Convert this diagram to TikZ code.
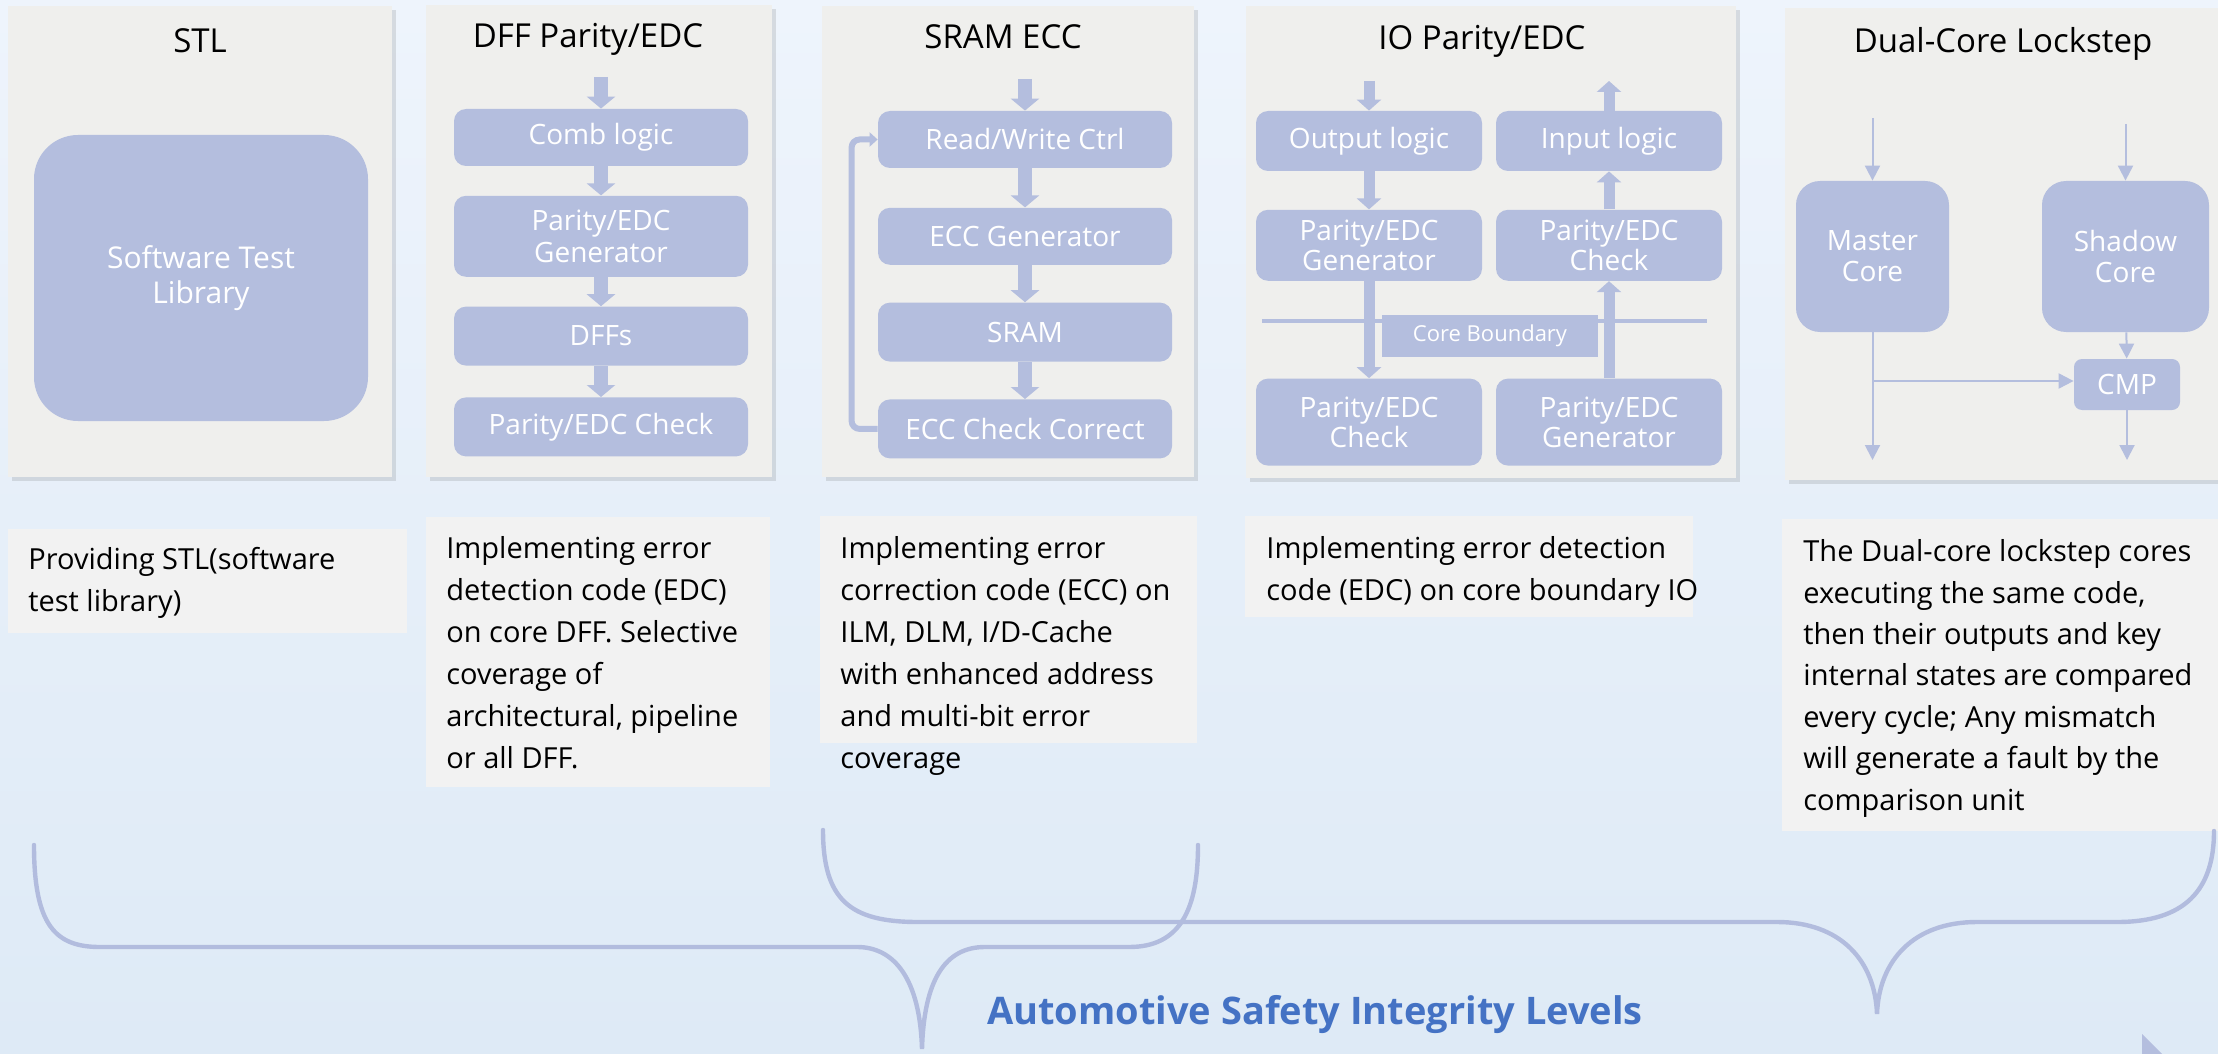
\documentclass[tikz,border=0pt]{standalone}
\usepackage{fontspec}
\setmainfont{Open Sans}
\usepackage{xcolor}
\usetikzlibrary{arrows.meta, positioning, shadows}
\definecolor{bgtop}{RGB}{238,244,252}
\definecolor{bgbot}{RGB}{222,234,246}
\definecolor{panelgray}{RGB}{239,239,237}
\definecolor{boxblue}{RGB}{180,190,222}
\definecolor{descgray}{RGB}{242,242,242}
\definecolor{bracecol}{RGB}{178,188,222}
\definecolor{asilblue}{RGB}{68,114,196}
\tikzset{
	panel/.style={fill=panelgray, inner sep=0pt, drop shadow={shadow xshift=2pt, shadow yshift=-2pt, opacity=.18, fill=black!60}},
	paneltitle/.style={anchor=base, inner sep=0pt, font=\fontsize{16.5pt}{20pt}\selectfont},
	blk/.style={fill=boxblue, rounded corners=6pt, text=white, align=center, inner sep=0pt, font=\fontsize{14pt}{16pt}\selectfont},
	dffbox/.style={blk, minimum width=147pt},
	iobox/.style={blk, minimum width=113pt, font=\fontsize{14pt}{15pt}\selectfont},
	corebox/.style={blk, rounded corners=12pt, minimum height=75.5pt, font=\fontsize{14pt}{15.5pt}\selectfont},
	desc/.style={fill=descgray, inner sep=0pt},
	desctext/.style={anchor=base west, align=left, inner sep=0pt, font=\fontsize{14.5pt}{21pt}\selectfont},
	fatarrow/.style={draw=boxblue, line width=7pt, -{Triangle[width=14pt,length=6pt]}},
	ioarrow/.style={draw=boxblue, line width=5.5pt, -{Triangle[width=12pt,length=5.5pt]}},
	looparrow/.style={draw=boxblue, line width=3pt, rounded corners=4pt, -{Triangle[width=7pt,length=4pt]}},
	thinarrow/.style={draw=boxblue, line width=1pt, -{Triangle[width=7.5pt,length=7.5pt]}},
	bracket/.style={draw=bracecol, line width=2.2pt, line cap=round},
}
\begin{document}
\begin{tikzpicture}[x=0.5pt, y=-0.5pt]
	\useasboundingbox (0,0) rectangle (2218,1054);
	\clip (0,0) rectangle (2218,1054);
	\shade[top color=bgtop, bottom color=bgbot] (0,0) rectangle (2218,1054);

	\node[panel, minimum width=192pt, minimum height=235.5pt] (stlp) at (200,241.5) {};
	\node[panel, minimum width=173pt, minimum height=236pt] (dffp) at (599,241) {};
	\node[panel, minimum width=186pt, minimum height=235.5pt] (sramp) at (1008,241.5) {};
	\node[panel, minimum width=245pt, minimum height=236pt] (iop) at (1491,242) {};
	\node[panel, minimum width=230pt, minimum height=236pt] (dclp) at (2015,244) {};

	\node[paneltitle] (stlt) at (200,53) {STL};
	\node[paneltitle] (dfft) at (588,48) {DFF Parity/EDC};
	\node[paneltitle] (sramt) at (1003,49) {SRAM ECC};
	\node[paneltitle] (iot) at (1482,50) {IO Parity/EDC};
	\node[paneltitle] (dclt) at (2003,53) {Dual-Core Lockstep};

	\node[blk, rounded corners=22pt, minimum width=167pt, minimum height=143pt, font=\fontsize{15pt}{17.5pt}\selectfont] (stllib) at (201,278) {Software Test\\Library};

	\coordinate (dffin) at (601,77);
	\node[dffbox, minimum height=28.5pt] (comb) at (601,137.5) {Comb logic};
	\node[dffbox, minimum height=40.5pt, below=14.5pt of comb] (dffgen) {Parity/EDC\\Generator};
	\node[dffbox, minimum height=29.5pt, below=14.5pt of dffgen] (dffs) {DFFs};
	\node[dffbox, minimum height=29.5pt, below=15.5pt of dffs] (dffchk) {Parity/EDC Check};
	\draw[fatarrow] (dffin) -- (comb);
	\draw[fatarrow] (comb) -- (dffgen);
	\draw[fatarrow] (dffgen) -- (dffs);
	\draw[fatarrow] (dffs) -- (dffchk);

	\coordinate (sramin) at (1025,79);
	\node[dffbox, minimum height=28.5pt] (rwctrl) at (1025,139.5) {Read/Write Ctrl};
	\node[dffbox, minimum height=28.5pt, below=19.5pt of rwctrl] (eccgen) {ECC Generator};
	\node[dffbox, minimum height=29.5pt, below=18.5pt of eccgen] (sram) {SRAM};
	\node[dffbox, minimum height=29.5pt, below=18.5pt of sram] (eccchk) {ECC Check Correct};
	\draw[fatarrow] (sramin) -- (rwctrl);
	\draw[fatarrow] (rwctrl) -- (eccgen);
	\draw[fatarrow] (eccgen) -- (sram);
	\draw[fatarrow] (sram) -- (eccchk);
	\draw[looparrow] (eccchk.west) -- ++(-13pt,0) |- (rwctrl.west);

	\coordinate (cbl) at (1262,321);
	\coordinate (cbr) at (1707,321);
	\draw[draw=boxblue, line width=2.3pt] (cbl) -- (cbr);
	\node[fill=boxblue, text=white, inner sep=0pt, minimum width=108pt, minimum height=21pt, font=\fontsize{11pt}{13pt}\selectfont] (cblabel) at (1490,336) {Core Boundary};
	\coordinate (ioin) at (1369,81);
	\coordinate (ioout) at (1609,81);
	\node[iobox, minimum height=30pt] (outl) at (1369,141) {Output logic};
	\node[iobox, minimum height=30pt] (inl) at (1609,141) {Input logic};
	\node[iobox, minimum height=35.5pt, below=19pt of outl] (iogen) {Parity/EDC\\Generator};
	\node[iobox, minimum height=35.5pt, below=19pt of inl] (iochkr) {Parity/EDC\\Check};
	\node[iobox, minimum height=43.5pt, below=48.5pt of iogen] (iochk) {Parity/EDC\\Check};
	\node[iobox, minimum height=43.5pt, below=48.5pt of iochkr] (iogenr) {Parity/EDC\\Generator};
	\draw[ioarrow] (ioin) -- (outl);
	\draw[ioarrow] (outl) -- (iogen);
	\draw[ioarrow] (iogen) -- (iochk);
	\draw[ioarrow] (iogenr) -- (iochkr);
	\draw[ioarrow] (iochkr) -- (inl);
	\draw[ioarrow] (inl) -- (ioout);

	\node[corebox, minimum width=76.5pt] (master) at (1872.5,256.5) {Master\\Core};
	\node[corebox, minimum width=83.5pt] (shadow) at (2125.5,256.5) {Shadow\\Core};
	\node[blk, rounded corners=4pt, minimum width=53pt, minimum height=25.5pt] (cmp) at (2127,384.5) {CMP};
	\coordinate (mastin) at (1872.5,118);
	\coordinate (shadin) at (2125.5,124);
	\coordinate (mastout) at (1872.5,460);
	\coordinate (cmpout) at (2127,460);
	\coordinate (brch) at (1872.5,381);
	\draw[thinarrow] (mastin) -- (master);
	\draw[thinarrow] (shadin) -- (shadow);
	\draw[thinarrow] (shadow) -- (cmp);
	\draw[thinarrow] (master) -- (mastout);
	\draw[thinarrow] (brch) -- (brch -| cmp.west);
	\draw[thinarrow] (cmp) -- (cmpout);

	\node[desc, minimum width=199.5pt, minimum height=52pt] (stld) at (207.5,581) {};
	\node[desc, minimum width=172pt, minimum height=135pt] (dffd) at (598,652) {};
	\node[desc, minimum width=188.5pt, minimum height=113.5pt] (sramd) at (1008.5,629.5) {};
	\node[desc, minimum width=224pt, minimum height=50.5pt] (iod) at (1469,566.5) {};
	\node[desc, minimum width=218pt, minimum height=156pt] (dcld) at (2000,675) {};
	\node[desctext] (stldt) at (28,611) {Providing STL(software\\test library)};
	\node[desctext] (dffdt) at (446,768) {Implementing error\\detection code (EDC)\\on core DFF. Selective\\coverage of\\architectural, pipeline\\or all DFF.};
	\node[desctext] (sramdt) at (840,768) {Implementing error\\correction code (ECC) on\\ILM, DLM, I/D-Cache\\with enhanced address\\and multi-bit error\\coverage};
	\node[desctext] (iodt) at (1266,600) {Implementing error detection\\code (EDC) on core boundary IO};
	\node[desctext, font=\fontsize{14.5pt}{20.7pt}\selectfont] (dcldt) at (1803,810) {The Dual-core lockstep cores\\executing the same code,\\then their outputs and key\\internal states are compared\\every cycle; Any mismatch\\will generate a fault by the\\comparison unit};

	\draw[bracket] (34,845) .. controls (34,925) and (55,947) .. (100,947) -- (857,947)
		.. controls (895,947) and (920,980) .. (922,1049)
		.. controls (924,980) and (945,947) .. (985,947) -- (1129,947)
		.. controls (1180,947) and (1198,910) .. (1198,845);
	\draw[bracket] (823,830) .. controls (823,900) and (850,922) .. (918,922) -- (1777,922)
		.. controls (1840,922) and (1875,960) .. (1877,1014)
		.. controls (1879,960) and (1914,922) .. (1977,922) -- (2117,922)
		.. controls (2185,922) and (2214,890) .. (2214,831);
	\fill[boxblue] (2142,1034) -- (2142,1060) -- (2168,1060) -- cycle;

	\node[anchor=base, text=asilblue, inner sep=0pt, font=\bfseries\fontsize{19pt}{22pt}\selectfont] (asil) at (1315,1024) {Automotive Safety Integrity Levels};
\end{tikzpicture}
\end{document}
